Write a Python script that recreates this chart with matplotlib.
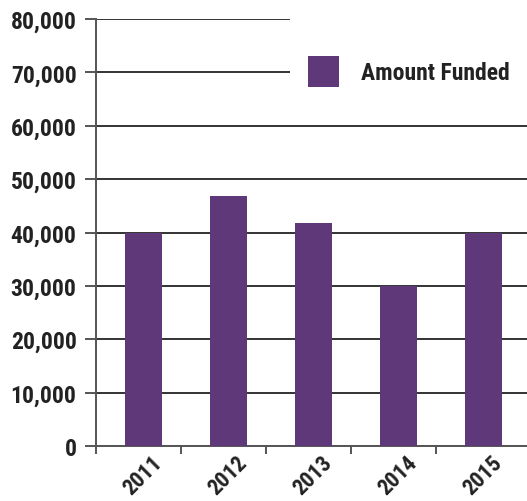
import matplotlib.pyplot as plt
import matplotlib.transforms as mtransforms
from matplotlib.patches import Rectangle
from matplotlib.ticker import FuncFormatter, FixedLocator

years = ["2011", "2012", "2013", "2014", "2015"]
amount_funded = [40000, 46800, 41800, 30000, 40000]
y_ticks = [0, 10000, 20000, 30000, 40000, 50000, 60000, 70000, 80000]

plt.rcParams['font.family'] = ['Roboto Condensed', 'IBM Plex Sans Condensed', 'DejaVu Sans']
plt.rcParams['font.weight'] = 'bold'

purple = "#5e3879"
dark = "#222222"
fig = plt.figure(figsize=(5.27, 5.02), dpi=100)
ax = fig.add_axes([96 / 527, 1 - 447 / 502, 431 / 527, 427 / 502])

x = list(range(len(years)))
bars = ax.bar(x, amount_funded, width=0.44, color=purple, zorder=3, label="Amount Funded")
# bars sit a little right of the category centres in the original
nudge = mtransforms.ScaledTranslation(5 / 100, 0, fig.dpi_scale_trans)
for b in bars:
    b.set_transform(ax.transData + nudge)

ax.set_ylim(0, 80000)
ax.set_xlim(-0.5, 4.57)
ax.set_yticks(y_ticks)
ax.yaxis.set_major_formatter(FuncFormatter(lambda v, p: f"{int(v):,}"))
ax.grid(axis='y', color="#333333", linewidth=1.4, zorder=1)

# tick marks on the category boundaries, labels in the middle
ax.xaxis.set_major_locator(FixedLocator([i - 0.5 for i in range(len(years))]))
ax.xaxis.set_major_formatter(FuncFormatter(lambda v, p: ""))
ax.set_xticks(x, minor=True)
ax.set_xticklabels(years, minor=True, rotation=45, ha='right', rotation_mode='anchor',
                   fontsize=16, fontweight='bold', color=dark)
ax.tick_params(axis='x', which='minor', length=0, pad=4)
ax.tick_params(axis='x', which='major', length=6, width=1.4, color="#555555", direction='out')
ax.tick_params(axis='y', length=8, width=1.4, color="#555555", labelsize=17, labelcolor=dark, pad=6)

shift = mtransforms.ScaledTranslation(13 / 100, 0, fig.dpi_scale_trans)
for lbl in ax.get_xticklabels(minor=True):
    lbl.set_transform(lbl.get_transform() + shift)

for s in ['top', 'right']:
    ax.spines[s].set_visible(False)
for s in ['left', 'bottom']:
    ax.spines[s].set_color("#555555")
    ax.spines[s].set_linewidth(1.4)

# white box behind the legend hides the upper gridlines
ax.add_patch(Rectangle((0.45, (447 - 100) / 427), 0.6, 0.3, transform=ax.transAxes,
                       facecolor="white", edgecolor="none", zorder=2, clip_on=False))
leg = ax.legend(loc='upper left', bbox_to_anchor=((308 - 96) / 431, (447 - 57) / 427), frameon=False,
                borderpad=0, borderaxespad=0, handlelength=1.3, handleheight=1.65, handletextpad=0.95,
                prop={'weight': 'bold', 'size': 17})
for t in leg.get_texts():
    t.set_color(dark)

fig.savefig("out.png", dpi=100)
